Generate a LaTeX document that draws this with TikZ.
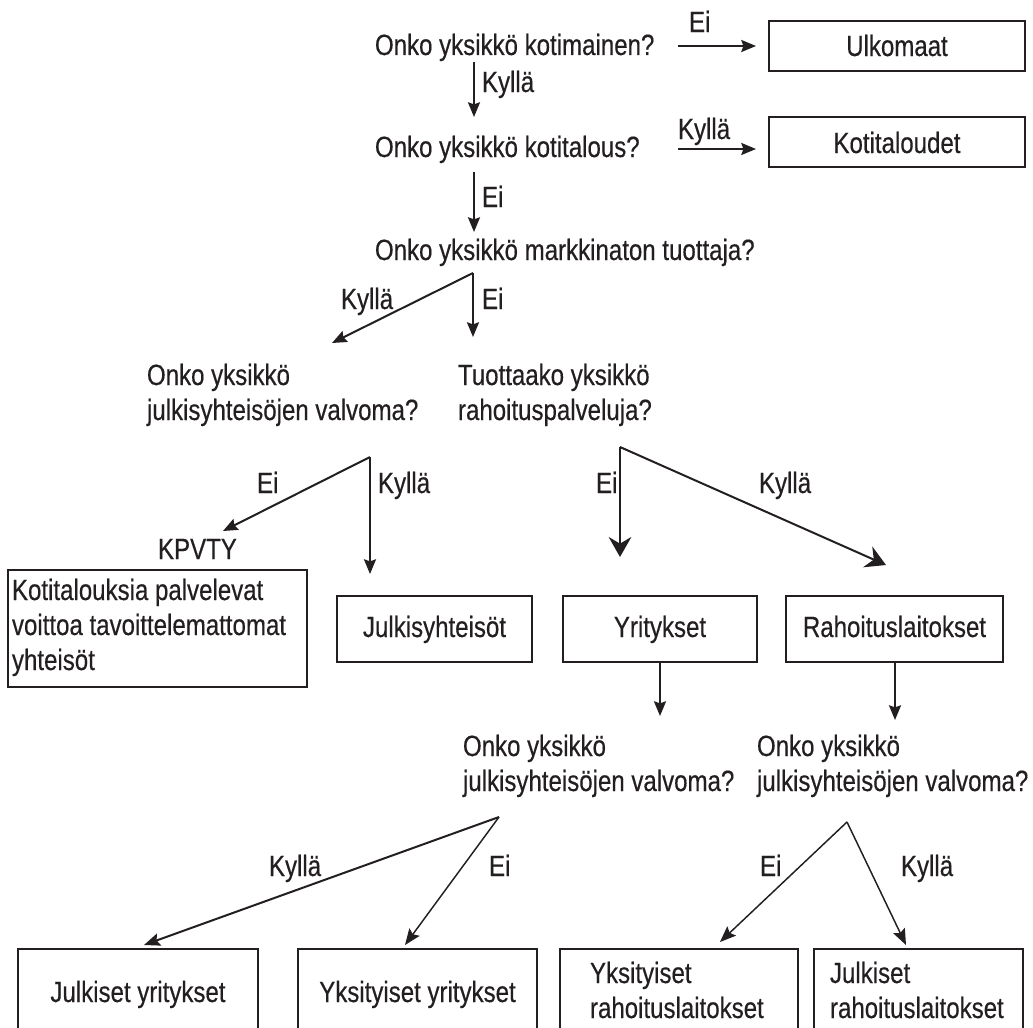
\documentclass[tikz,border=0pt]{standalone}
\usepackage{fontspec}
\setmainfont{Liberation Sans}[FakeStretch=0.82,FakeBold=0.4]
\usetikzlibrary{arrows.meta}
\definecolor{ink}{RGB}{35,31,32}
\begin{document}
\begin{tikzpicture}[x=0.75pt,y=-0.75pt,
  txt/.style={font=\fontsize{22}{26.25}\selectfont, inner sep=0pt, outer sep=0pt, text=ink, align=left},
  box/.style={draw=ink, line width=1pt, inner sep=0pt},
  arr/.style={draw=ink, line width=1.5pt, -{Stealth[length=11pt,width=9pt,inset=1.5pt]}},
  bigarr/.style={draw=ink, line width=1.5pt, -{Stealth[length=15pt,width=17pt,inset=5pt]}},
  thinarr/.style={draw=ink, line width=1.1pt, -{Stealth[length=12pt,width=9.5pt,inset=2pt]}}]
\useasboundingbox (0,0) rectangle (1033,1028);
% questions (base = baseline of the last line)
\node[txt, anchor=base west] (q1) at (375,55) {Onko yksikkö kotimainen?};
\node[txt, anchor=base west] (q2) at (375,157) {Onko yksikkö kotitalous?};
\node[txt, anchor=base west] (q3) at (375,260) {Onko yksikkö markkinaton tuottaja?};
\node[txt, anchor=base west] (q4) at (147,420) {Onko yksikkö\\julkisyhteisöjen valvoma?};
\node[txt, anchor=base west] (q5) at (458,420) {Tuottaako yksikkö\\rahoituspalveluja?};
\node[txt, anchor=base west] (q6) at (463,791) {Onko yksikkö\\julkisyhteisöjen valvoma?};
\node[txt, anchor=base west] (q7) at (757,791) {Onko yksikkö\\julkisyhteisöjen valvoma?};
\node[txt, anchor=base west] (kpvty) at (158,559) {KPVTY};
% boxes
\node[box, minimum width=192pt, minimum height=37.5pt] (ulko) at (897,46) {};
\node[box, minimum width=192pt, minimum height=37.5pt] (koti) at (897,142) {};
\node[box, minimum width=224.25pt, minimum height=87.75pt] (kb) at (157.5,628.5) {};
\node[box, minimum width=146.25pt, minimum height=49.5pt] (julk) at (434.5,629) {};
\node[box, minimum width=145.5pt, minimum height=49.5pt] (yrit) at (660,629) {};
\node[box, minimum width=162.75pt, minimum height=49.5pt] (rahoit) at (894.5,629) {};
\node[box, minimum width=180pt, minimum height=83.25pt] (b1) at (138,1004.5) {};
\node[box, minimum width=179.25pt, minimum height=83.25pt] (b2) at (417.5,1004.5) {};
\node[box, minimum width=178.5pt, minimum height=83.25pt] (b3) at (679,1004.5) {};
\node[box, minimum width=156.75pt, minimum height=83.25pt] (b4) at (918.5,1004.5) {};
% box texts
\node[txt, anchor=base] (tulko) at (897,56) {Ulkomaat};
\node[txt, anchor=base] (tkoti) at (897,153) {Kotitaloudet};
\node[txt, anchor=base west] (tkb) at (12,670) {Kotitalouksia palvelevat\\voittoa tavoittelemattomat\\yhteisöt};
\node[txt, anchor=base] (tjulk) at (434.5,637) {Julkisyhteisöt};
\node[txt, anchor=base] (tyrit) at (660,637) {Yritykset};
\node[txt, anchor=base] (trahoit) at (894.5,637) {Rahoituslaitokset};
\node[txt, anchor=base] (tb1) at (138,1002) {Julkiset yritykset};
\node[txt, anchor=base] (tb2) at (417.5,1002) {Yksityiset yritykset};
\node[txt, anchor=base west] (tb3) at (590,1018) {Yksityiset\\rahoituslaitokset};
\node[txt, anchor=base west] (tb4) at (830,1018) {Julkiset\\rahoituslaitokset};
% coordinates
\coordinate (a1s) at (678,46); \coordinate (a1e) at (756,46);
\coordinate (a2s) at (474,62); \coordinate (a2e) at (474,117);
\coordinate (a3s) at (678,149); \coordinate (a3e) at (756,149);
\coordinate (a4s) at (474,172); \coordinate (a4e) at (474,232);
\coordinate (s1) at (473,273); \coordinate (s1a) at (332,343); \coordinate (s1b) at (473,337);
\coordinate (s2) at (370,457); \coordinate (s2a) at (223,531); \coordinate (s2b) at (370,574);
\coordinate (s3) at (620,447); \coordinate (s3a) at (620,557); \coordinate (s3b) at (886,565);
\coordinate (ye) at (660,716); \coordinate (re) at (895,720);
\coordinate (s4) at (499,817); \coordinate (s4a) at (144,945); \coordinate (s4b) at (405,945);
\coordinate (s5) at (847,822); \coordinate (s5a) at (720,942); \coordinate (s5b) at (906,945);
% connectors
\draw[arr] (a1s) -- (a1e);
\draw[arr] (a2s) -- (a2e);
\draw[arr] (a3s) -- (a3e);
\draw[arr] (a4s) -- (a4e);
\draw[arr] (s1) -- (s1a);
\draw[arr] (s1) -- (s1b);
\draw[arr] (s2) -- (s2a);
\draw[arr] (s2) -- (s2b);
\draw[bigarr] (s3) -- (s3a);
\draw[bigarr] (s3) -- (s3b);
\draw[arr] (yrit.south -| ye) -- (ye);
\draw[arr] (rahoit.south -| re) -- (re);
\draw[thinarr, line width=1.5pt] (s4) -- (s4a);
\draw[thinarr] (s4) -- (s4b);
\draw[thinarr] (s5) -- (s5a);
\draw[thinarr] (s5) -- (s5b);
% labels
\node[txt, anchor=base west] (l1) at (689,32) {Ei};
\node[txt, anchor=base west] (l2) at (482,92) {Kyllä};
\node[txt, anchor=base west] (l3) at (678,139) {Kyllä};
\node[txt, anchor=base west] (l4) at (482,207) {Ei};
\node[txt, anchor=base west] (l5) at (341,309) {Kyllä};
\node[txt, anchor=base west] (l6) at (482,309) {Ei};
\node[txt, anchor=base west] (l7) at (257,493) {Ei};
\node[txt, anchor=base west] (l8) at (378,493) {Kyllä};
\node[txt, anchor=base west] (l9) at (596,493) {Ei};
\node[txt, anchor=base west] (l10) at (759,493) {Kyllä};
\node[txt, anchor=base west] (l11) at (269,876) {Kyllä};
\node[txt, anchor=base west] (l12) at (489,876) {Ei};
\node[txt, anchor=base west] (l13) at (760,876) {Ei};
\node[txt, anchor=base west] (l14) at (901,876) {Kyllä};
\end{tikzpicture}
\end{document}
